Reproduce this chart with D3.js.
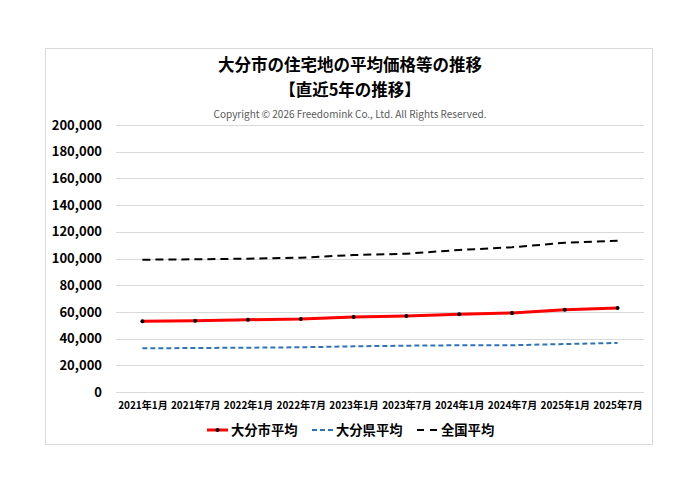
<!DOCTYPE html>
<html>
<head>
<meta charset="utf-8">
<script src="https://cdn.jsdelivr.net/npm/d3@7"></script>
<style>
  body { margin: 0; background: #fff; }
  svg { font-family: "Noto Sans CJK JP", "Noto Sans", sans-serif; }
</style>
</head>
<body>
<svg id="chart"></svg>
<script>
const categories = ["2021年1月", "2021年7月", "2022年1月", "2022年7月", "2023年1月",
                    "2023年7月", "2024年1月", "2024年7月", "2025年1月", "2025年7月"];
const cityAvg = [52960, 53400, 54150, 54700, 56200, 56900, 58200, 59200, 61600, 62900];
const prefAvg = [32700, 32950, 33200, 33500, 34200, 34700, 35000, 35000, 35950, 36700];
const nationAvg = [99100, 99400, 99900, 100600, 102600, 103600, 106400, 108400, 111800, 113300];
const yTicks = [0, 20000, 40000, 60000, 80000, 100000, 120000, 140000, 160000, 180000, 200000];

const width = 700;
const height = 495;
const margin = { top: 125, right: 56, bottom: 103, left: 116 };

const svg = d3.select("#chart")
    .attr("width", width)
    .attr("height", height);

// outer frame
svg.append("rect")
    .attr("x", 45.5).attr("y", 48.5)
    .attr("width", 607).attr("height", 396)
    .attr("fill", "#fff")
    .attr("stroke", "#d9d9d9");

svg.append("text")
    .attr("x", 350).attr("y", 71)
    .attr("text-anchor", "middle")
    .attr("font-size", 16.5).attr("font-weight", "bold")
    .attr("fill", "#000")
    .text("大分市の住宅地の平均価格等の推移");

svg.append("text")
    .attr("x", 350).attr("y", 96)
    .attr("text-anchor", "middle")
    .attr("font-size", 16.5).attr("font-weight", "bold")
    .attr("fill", "#000")
    .text("【直近5年の推移】");

svg.append("text")
    .attr("x", 350).attr("y", 118)
    .attr("text-anchor", "middle")
    .attr("font-size", 10)
    .attr("fill", "#595959")
    .text("Copyright © 2026 Freedomink Co., Ltd. All Rights Reserved.");

const x = d3.scalePoint()
    .domain(categories)
    .range([margin.left, width - margin.right])
    .padding(0.5);

const y = d3.scaleLinear()
    .domain([0, 200000])
    .range([height - margin.bottom, margin.top]);

// gridlines
svg.append("g")
    .selectAll("line")
    .data(yTicks)
    .enter()
    .append("line")
    .attr("x1", margin.left).attr("x2", width - margin.right)
    .attr("y1", d => Math.round(y(d)) + 0.5)
    .attr("y2", d => Math.round(y(d)) + 0.5)
    .attr("stroke", "#d9d9d9");

// y axis labels
const yAxis = svg.append("g")
    .attr("transform", `translate(${margin.left - 14},0)`)
    .call(d3.axisLeft(y).tickValues(yTicks).tickSize(0).tickPadding(0).tickFormat(d3.format(",")));
yAxis.select(".domain").remove();
yAxis.selectAll("text")
    .attr("font-size", 13).attr("font-weight", "bold")
    .attr("font-family", "\"Noto Sans CJK JP\", sans-serif")
    .attr("fill", "#000");

// x axis labels
const xAxis = svg.append("g")
    .attr("transform", `translate(0,${height - margin.bottom})`)
    .call(d3.axisBottom(x).tickSize(0).tickPadding(10));
xAxis.select(".domain").remove();
xAxis.selectAll("text")
    .attr("font-size", 10).attr("font-weight", "bold")
    .attr("font-family", "\"Noto Sans CJK JP\", sans-serif")
    .attr("fill", "#000");

const line = d3.line()
    .x((d, i) => x(categories[i]))
    .y(d => y(d));

svg.append("path")
    .datum(prefAvg)
    .attr("d", line)
    .attr("fill", "none")
    .attr("stroke", "#2e75b6")
    .attr("stroke-width", 2)
    .attr("stroke-dasharray", "5,3");

svg.append("path")
    .datum(nationAvg)
    .attr("d", line)
    .attr("fill", "none")
    .attr("stroke", "#000")
    .attr("stroke-width", 2)
    .attr("stroke-dasharray", "8,5");

svg.append("path")
    .datum(cityAvg)
    .attr("d", line)
    .attr("fill", "none")
    .attr("stroke", "#ff0000")
    .attr("stroke-width", 3);

svg.append("g")
    .selectAll("circle")
    .data(cityAvg)
    .enter()
    .append("circle")
    .attr("cx", (d, i) => x(categories[i]))
    .attr("cy", d => y(d))
    .attr("r", 2)
    .attr("fill", "#000");

// legend
const legendItems = [
    { label: "大分市平均", x: 207, color: "#ff0000", width: 3, dash: null, marker: true },
    { label: "大分県平均", x: 312, color: "#2e75b6", width: 2, dash: "5,3", marker: false },
    { label: "全国平均", x: 417, color: "#000", width: 2, dash: "7,6", marker: false }
];
const legend = svg.append("g").attr("transform", "translate(0,430)");
legendItems.forEach(item => {
    legend.append("line")
        .attr("x1", item.x).attr("x2", item.x + 21)
        .attr("y1", 0).attr("y2", 0)
        .attr("stroke", item.color)
        .attr("stroke-width", item.width)
        .attr("stroke-dasharray", item.dash);
    if (item.marker) {
        legend.append("circle")
            .attr("cx", item.x + 10.5).attr("cy", 0).attr("r", 2)
            .attr("fill", "#000");
    }
    legend.append("text")
        .attr("x", item.x + 24).attr("y", 0)
        .attr("dy", "0.35em")
        .attr("font-size", 13.3).attr("font-weight", "bold")
        .attr("fill", "#000")
        .text(item.label);
});
</script>
</body>
</html>
